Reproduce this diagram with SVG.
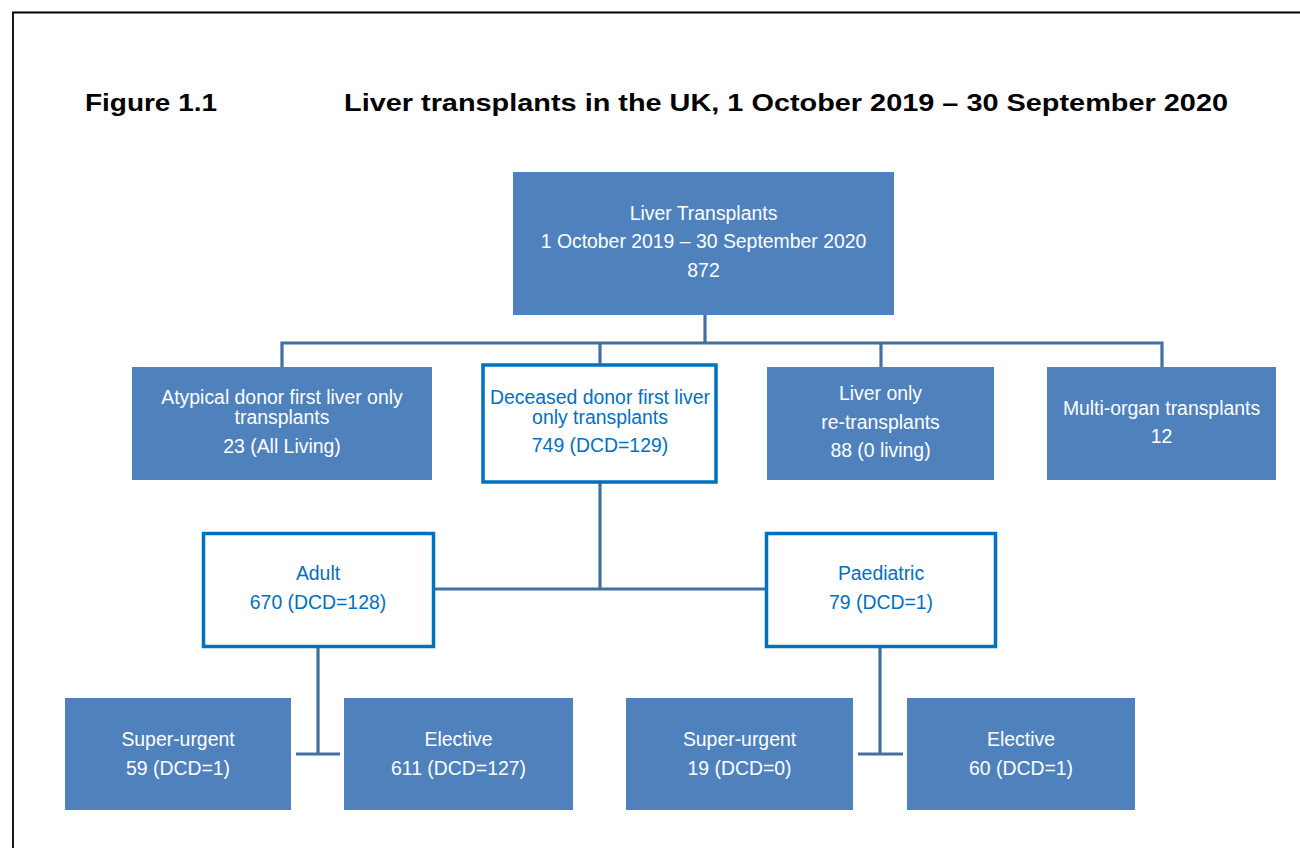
<svg xmlns="http://www.w3.org/2000/svg" width="1300" height="848" viewBox="0 0 1300 848">
<style>
.fill{fill:#4F81BD;}
.outl{fill:#FFFFFF;stroke:#0070C0;stroke-width:3.5;}
.t{font-family:"Liberation Sans",Arial,sans-serif;font-size:19.4px;text-anchor:middle;}
.w{fill:#FFFFFF;}
.b{fill:#0070C0;}
.title{font-family:"Liberation Sans",Arial,sans-serif;font-weight:bold;font-size:23.5px;fill:#000000;}
.conn{fill:none;stroke:#42709F;stroke-width:3.2;}
</style>
<rect x="0" y="0" width="1300" height="848" fill="#FFFFFF"/>
<path d="M13,848 V12.5 H1300" fill="none" stroke="#000000" stroke-width="1.8"/>
<text class="title" x="85" y="111" textLength="132" lengthAdjust="spacingAndGlyphs">Figure 1.1</text>
<text class="title" x="344" y="111" textLength="884" lengthAdjust="spacingAndGlyphs">Liver transplants in the UK, 1 October 2019 – 30 September 2020</text>
<g id="connectors">
<path class="conn" d="M705,314 V343"/>
<path class="conn" d="M282,367 V343 H1162 V367"/>
<path class="conn" d="M600,343 V364"/>
<path class="conn" d="M881,343 V367"/>
<path class="conn" d="M600,482 V589"/>
<path class="conn" d="M435,589 H765"/>
<path class="conn" d="M318,648 V754"/>
<path class="conn" d="M296,754 H340"/>
<path class="conn" d="M880,648 V754"/>
<path class="conn" d="M858,754 H903"/>
</g>
<g id="n-top">
<rect class="fill" x="513" y="172" width="381" height="143"/>
<text class="t w" x="703.5" y="220">Liver Transplants</text>
<text class="t w" x="703.5" y="248">1 October 2019 – 30 September 2020</text>
<text class="t w" x="703.5" y="277">872</text>
</g>
<g id="n-atypical">
<rect class="fill" x="132" y="367" width="300" height="113"/>
<text class="t w" x="282" y="404">Atypical donor first liver only</text>
<text class="t w" x="282" y="424">transplants</text>
<text class="t w" x="282" y="453">23 (All Living)</text>
</g>
<g id="n-deceased">
<rect class="outl" x="483" y="365" width="233" height="117"/>
<text class="t b" x="600" y="404">Deceased donor first liver</text>
<text class="t b" x="600" y="424">only transplants</text>
<text class="t b" x="600" y="452">749 (DCD=129)</text>
</g>
<g id="n-reliver">
<rect class="fill" x="767" y="367" width="227" height="113"/>
<text class="t w" x="880.5" y="400">Liver only</text>
<text class="t w" x="880.5" y="429">re-transplants</text>
<text class="t w" x="880.5" y="457">88 (0 living)</text>
</g>
<g id="n-multi">
<rect class="fill" x="1047" y="367" width="229" height="113"/>
<text class="t w" x="1161.5" y="415">Multi-organ transplants</text>
<text class="t w" x="1161.5" y="443">12</text>
</g>
<g id="n-adult">
<rect class="outl" x="203.5" y="533.5" width="230" height="113"/>
<text class="t b" x="318" y="580">Adult</text>
<text class="t b" x="318" y="609">670 (DCD=128)</text>
</g>
<g id="n-paed">
<rect class="outl" x="766.5" y="533.5" width="229" height="113"/>
<text class="t b" x="881" y="580">Paediatric</text>
<text class="t b" x="881" y="609">79 (DCD=1)</text>
</g>
<g id="n-adult-su">
<rect class="fill" x="65" y="698" width="226" height="112"/>
<text class="t w" x="178" y="746">Super-urgent</text>
<text class="t w" x="178" y="775">59 (DCD=1)</text>
</g>
<g id="n-adult-el">
<rect class="fill" x="344" y="698" width="229" height="112"/>
<text class="t w" x="458.5" y="746">Elective</text>
<text class="t w" x="458.5" y="775">611 (DCD=127)</text>
</g>
<g id="n-paed-su">
<rect class="fill" x="626" y="698" width="227" height="112"/>
<text class="t w" x="739.5" y="746">Super-urgent</text>
<text class="t w" x="739.5" y="775">19 (DCD=0)</text>
</g>
<g id="n-paed-el">
<rect class="fill" x="907" y="698" width="228" height="112"/>
<text class="t w" x="1021" y="746">Elective</text>
<text class="t w" x="1021" y="775">60 (DCD=1)</text>
</g>
</svg>
